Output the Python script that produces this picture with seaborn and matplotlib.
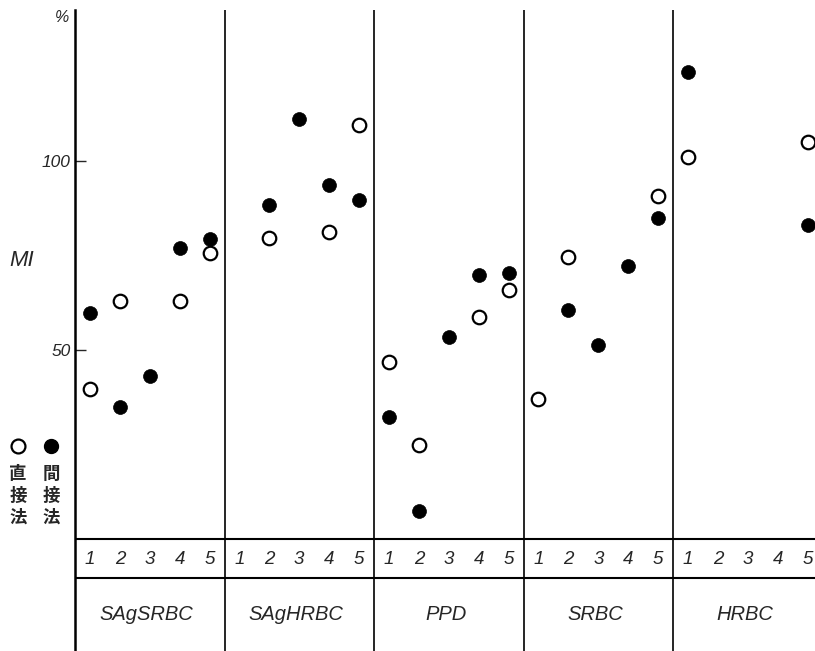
import matplotlib
matplotlib.use("Agg")
import matplotlib.pyplot as plt
import pandas as pd
import seaborn as sns

# MI (%) per antigen group, test positions 1-5; None = no point
groups = ["SAgSRBC", "SAgHRBC", "PPD", "SRBC", "HRBC"]
positions = [1, 2, 3, 4, 5]
direct = [  # 直接法 (open circles)
    [39.6, 63.0, None, 63.0, 75.6],
    [None, 79.6, None, 81.2, 109.5],
    [46.8, 24.9, None, 58.7, 65.9],
    [37.0, 74.6, None, None, 90.7],
    [101.1, None, None, None, 105.0],
]
indirect = [  # 間接法 (filled circles)
    [59.9, 34.8, 43.2, 77.0, 79.3],
    [None, 88.4, 111.1, 93.7, 89.7],
    [32.3, 7.4, 53.4, 69.8, 70.4],
    [None, 60.6, 51.3, 72.2, 84.9],
    [123.5, None, None, None, 83.1],
]
yticks = [50, 100]

rows = []
for g, name in enumerate(groups):
    for i, p in enumerate(positions):
        for method, vals in (("direct", direct), ("indirect", indirect)):
            v = vals[g][i]
            if v is not None:
                rows.append({"x": g * 5 + p, "MI": v, "method": method})
df = pd.DataFrame(rows)

sns.set_style("white")
plt.rcParams["font.family"] = ["Liberation Sans", "DejaVu Sans"]
cjk = ["Noto Sans CJK JP", "DejaVu Sans"]

W, H = 815, 651
fig = plt.figure(figsize=(W / 100, H / 100), dpi=100)
ax = fig.add_axes([75 / W, 0, 740 / W, 641 / H])

# scale: 100 -> px 161, 50 -> px 350 (0 at px 539)
ppu = 189 / 50
ax.set_ylim((539 - 651) / ppu, (539 - 10) / ppu)
ax.set_xlim(0.5, 0.5 + 740 / 29.9)

sns.scatterplot(data=df[df.method == "direct"], x="x", y="MI", ax=ax, s=95,
                facecolor="white", edgecolor="black", linewidth=1.6, zorder=3)
sns.scatterplot(data=df[df.method == "indirect"], x="x", y="MI", ax=ax, s=100,
                color="black", edgecolor="black", linewidth=0.5, zorder=3)

for s in ("top", "right", "bottom"):
    ax.spines[s].set_visible(False)
ax.spines["left"].set_linewidth(1.8)
ax.spines["left"].set_color("black")

for g in range(1, len(groups)):
    ax.axvline(g * 5 + 0.5, color="black", lw=1.2)
row_top, row_bot = 0, (539 - 578) / ppu
ax.axhline(row_top, color="black", lw=1.5)
ax.axhline(row_bot, color="black", lw=1.5)

for g, name in enumerate(groups):
    for p in positions:
        ax.text(g * 5 + p, (row_top + row_bot) / 2 - 0.3, str(p), ha="center",
                va="center", fontsize=13.5, fontstyle="italic")
    ax.text(g * 5 + 2.9, (539 - 614) / ppu, name, ha="center", va="center",
            fontsize=14.5, fontstyle="italic")

ax.set_xticks([])
ax.set_yticks(yticks)
ax.set_yticklabels([str(t) for t in yticks], fontstyle="italic", fontsize=12.5)
ax.tick_params(axis="y", direction="in", length=8, width=1.0, pad=3, left=True)
ax.set_xlabel("")
ax.set_ylabel("")

fig.text(62 / W, 1 - 18 / H, "%", ha="center", va="center", fontsize=11.5,
         fontstyle="italic")
fig.text(22 / W, 1 - 261 / H, "MI", ha="center", va="center", fontsize=16,
         fontstyle="italic")

# legend at left
ax.plot([18 / W], [1 - 446 / H], "o", ms=10, mfc="white", mec="black", mew=1.6,
        transform=fig.transFigure, clip_on=False)
ax.plot([51 / W], [1 - 446 / H], "o", ms=10, color="black",
        transform=fig.transFigure, clip_on=False)
for x, word in ((18, "直接法"), (51, "間接法")):
    for k, ch in enumerate(word):
        fig.text(x / W, 1 - (474 + 22 * k) / H, ch, ha="center", va="center",
                 fontsize=12.5, fontweight="bold", family=cjk)

fig.savefig("out.png", dpi=100)
